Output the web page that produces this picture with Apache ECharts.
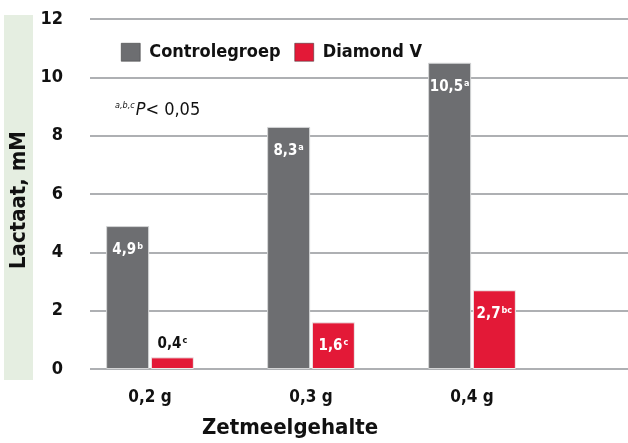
<!DOCTYPE html>
<html>
<head>
<meta charset="utf-8">
<script src="https://cdn.jsdelivr.net/npm/echarts@6/dist/echarts.min.js"></script>
<style>
html, body { margin: 0; padding: 0; background: #fff; }
#main { width: 628px; height: 443px; }
</style>
</head>
<body>
<div id="main"></div>
<script>
// 数据
var categories = ['0,2 g', '0,3 g', '0,4 g'];
var controle = [4.9, 8.3, 10.5];
var diamond = [0.4, 1.6, 2.7];
var controleSup = ['b', 'a', 'a'];
var diamondSup = ['c', 'c', 'bc'];
var yTicks = [0, 2, 4, 6, 8, 10, 12];

var fontCond = '"DejaVu Sans Condensed", "Liberation Sans Narrow", sans-serif';
var grijs = '#6d6e71';
var rood = '#e31937';

function fmt(v) {
	return String(v).replace('.', ',');
}

function labelRich(kleur) {
	return {
		v: { fontFamily: fontCond, fontWeight: 'bold', fontSize: 15, color: kleur },
		s: { fontFamily: fontCond, fontWeight: 'bold', fontSize: 9, color: kleur, verticalAlign: 'top', padding: [0, 0, 7, 1] }
	};
}

var chart = echarts.init(document.getElementById('main'));
var option = {
	animation: false,
	legend: {
		left: 116,
		top: 38,
		itemWidth: 19,
		itemHeight: 18,
		itemGap: 14,
		icon: 'rect',
		itemStyle: { borderColor: '#333', borderWidth: 0.5 },
		textStyle: {
			fontFamily: fontCond,
			fontWeight: 'bold',
			fontSize: 18,
			color: '#111',
			padding: [0, 0, 0, 4]
		},
		data: ['Controlegroep', 'Diamond V']
	},
	graphic: [
		// groene achtergrond van de y-as titel
		{
			type: 'rect',
			left: 4, top: 15,
			shape: { width: 29, height: 365 },
			style: { fill: '#e5eee1' },
			z: -1
		},
		{
			type: 'text',
			x: 19, y: 200,
			rotation: Math.PI / 2,
			style: {
				text: 'Lactaat, mM',
				font: 'bold 22px ' + fontCond,
				fill: '#111',
				align: 'center',
				verticalAlign: 'middle'
			}
		},
		{
			type: 'text',
			x: 290, y: 428,
			style: {
				text: 'Zetmeelgehalte',
				font: 'bold 22px ' + fontCond,
				fill: '#111',
				align: 'center',
				verticalAlign: 'middle'
			}
		},
		{
			type: 'text',
			left: 115, top: 101,
			style: {
				text: '{s|a,b,c}{p|P}{t|< 0,05}',
				rich: {
					s: { fontFamily: fontCond, fontStyle: 'italic', fontSize: 9, fill: '#111', verticalAlign: 'top', padding: [0, 1, 8, 0] },
					p: { fontFamily: fontCond, fontStyle: 'italic', fontSize: 18, fill: '#111' },
					t: { fontFamily: fontCond, fontSize: 18, fill: '#111' }
				}
			}
		}
	],
	grid: [
		{ left: 90, right: 0, top: 19, bottom: 74 },
		{ left: 69.5, width: 483, top: 19, bottom: 74 }
	],
	xAxis: [
		{
			gridIndex: 0,
			type: 'value',
			show: false
		},
		{
			gridIndex: 1,
			type: 'category',
			data: categories,
			axisLine: { show: false },
			axisTick: { show: false },
			axisLabel: {
				margin: 20,
				fontFamily: fontCond,
				fontWeight: 'bold',
				fontSize: 17,
				color: '#111'
			}
		}
	],
	yAxis: [
		{
			gridIndex: 0,
			type: 'value',
			min: yTicks[0],
			max: yTicks[yTicks.length - 1],
			interval: 2,
			axisLine: { show: false },
			axisTick: { show: false },
			axisLabel: {
				margin: 27,
				fontFamily: fontCond,
				fontWeight: 'bold',
				fontSize: 18,
				color: '#111'
			},
			splitLine: { lineStyle: { color: '#aeb0b3', width: 2 } }
		},
		{
			gridIndex: 1,
			type: 'value',
			min: yTicks[0],
			max: yTicks[yTicks.length - 1],
			show: false
		}
	],
	series: [
		{
			name: 'Controlegroep',
			type: 'bar',
			xAxisIndex: 1,
			yAxisIndex: 1,
			barWidth: 43,
			barGap: '4%',
			itemStyle: { color: grijs, borderColor: '#d4d5d6', borderWidth: 1 },
			label: {
				show: true,
				position: 'insideTop',
				distance: 16,
				formatter: function(p) {
					return '{v|' + fmt(p.value) + '}{s|' + controleSup[p.dataIndex] + '}';
				},
				rich: labelRich('#fff')
			},
			data: controle
		},
		{
			name: 'Diamond V',
			type: 'bar',
			xAxisIndex: 1,
			yAxisIndex: 1,
			barWidth: 43,
			itemStyle: { color: rood, borderColor: '#ececec', borderWidth: 1 },
			label: {
				show: true,
				position: 'insideTop',
				distance: 16,
				formatter: function(p) {
					return '{v|' + fmt(p.value) + '}{s|' + diamondSup[p.dataIndex] + '}';
				},
				rich: labelRich('#fff')
			},
			data: [
				{
					value: diamond[0],
					label: {
						position: 'top',
						distance: 5,
						rich: labelRich('#111')
					}
				},
				diamond[1],
				diamond[2]
			]
		}
	]
};
chart.setOption(option);
window.onresize = function() {
	chart.resize();
};
</script>
</body>
</html>
